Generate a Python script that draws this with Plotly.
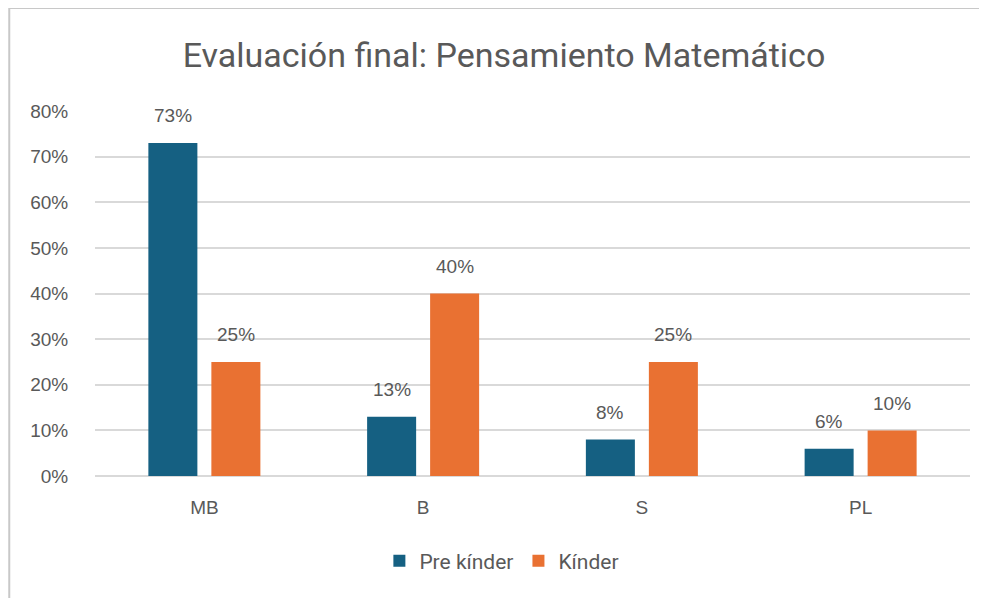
import plotly.graph_objects as go

# Chart data
categories = ["MB", "B", "S", "PL"]
pre_kinder = [0.73, 0.13, 0.08, 0.06]
kinder = [0.25, 0.40, 0.25, 0.10]
y_ticks = [0, 0.1, 0.2, 0.3, 0.4, 0.5, 0.6, 0.7, 0.8]

BLUE = "#156082"
ORANGE = "#E97132"
GREY = "#595959"
GRID = "#d9d9d9"
NARROW = "Liberation Sans Narrow, Roboto, Arial Narrow, sans-serif"
SANS = "Liberation Sans, Arial, sans-serif"

fig = go.Figure()
fig.add_trace(go.Bar(x=categories, y=pre_kinder, name="Pre kínder",
                     marker=dict(color=BLUE, line=dict(width=0))))
fig.add_trace(go.Bar(x=categories, y=kinder, name="Kínder",
                     marker=dict(color=ORANGE, line=dict(width=0))))

# Data labels above each bar
for series, shift in ((pre_kinder, -31.5), (kinder, 31.5)):
    for cat, val in zip(categories, series):
        fig.add_annotation(x=cat, y=val, text=f"{round(val * 100)}%",
                           showarrow=False, xshift=shift, yshift=27,
                           yanchor="middle",
                           font=dict(family=SANS, size=19, color=GREY))

# Chart border (top and left edges visible in reference)
fig.add_shape(type="line", xref="paper", yref="paper",
              x0=-0.098, x1=1.05, y0=1.282, y1=1.282,
              line=dict(color="#c8c8c8", width=2))
fig.add_shape(type="line", xref="paper", yref="paper",
              x0=-0.098, x1=-0.098, y0=1.282, y1=-0.4,
              line=dict(color="#c8c8c8", width=2))

fig.update_layout(
    width=987, height=598,
    margin=dict(l=87, r=25, t=103, b=130),
    paper_bgcolor="white", plot_bgcolor="white",
    barmode="group", bargap=0.424, bargroupgap=0.222,
    title=dict(text="Evaluación final: Pensamiento Matemático",
               x=496 / 987, xanchor="center", y=1 - 47 / 598, yanchor="middle",
               font=dict(family=NARROW, size=34, color=GREY)),
    showlegend=True,
    legend=dict(orientation="h", x=0.465, xanchor="center",
                y=-0.233, yanchor="middle",
                font=dict(family=NARROW, size=21, color=GREY)),
    xaxis=dict(showgrid=False, showline=False, ticks="outside", ticklen=14,
               tickcolor="rgba(0,0,0,0)",
               tickfont=dict(family=SANS, size=19, color=GREY)),
    yaxis=dict(range=[0, 0.8], tickvals=y_ticks, tickformat=".0%",
               showgrid=True, gridcolor=GRID, gridwidth=2,
               zeroline=True, zerolinecolor=GRID, zerolinewidth=2,
               ticks="outside", ticklen=22, tickcolor="rgba(0,0,0,0)",
               tickfont=dict(family=SANS, size=19, color=GREY)),
)

fig.write_html("out.html")
